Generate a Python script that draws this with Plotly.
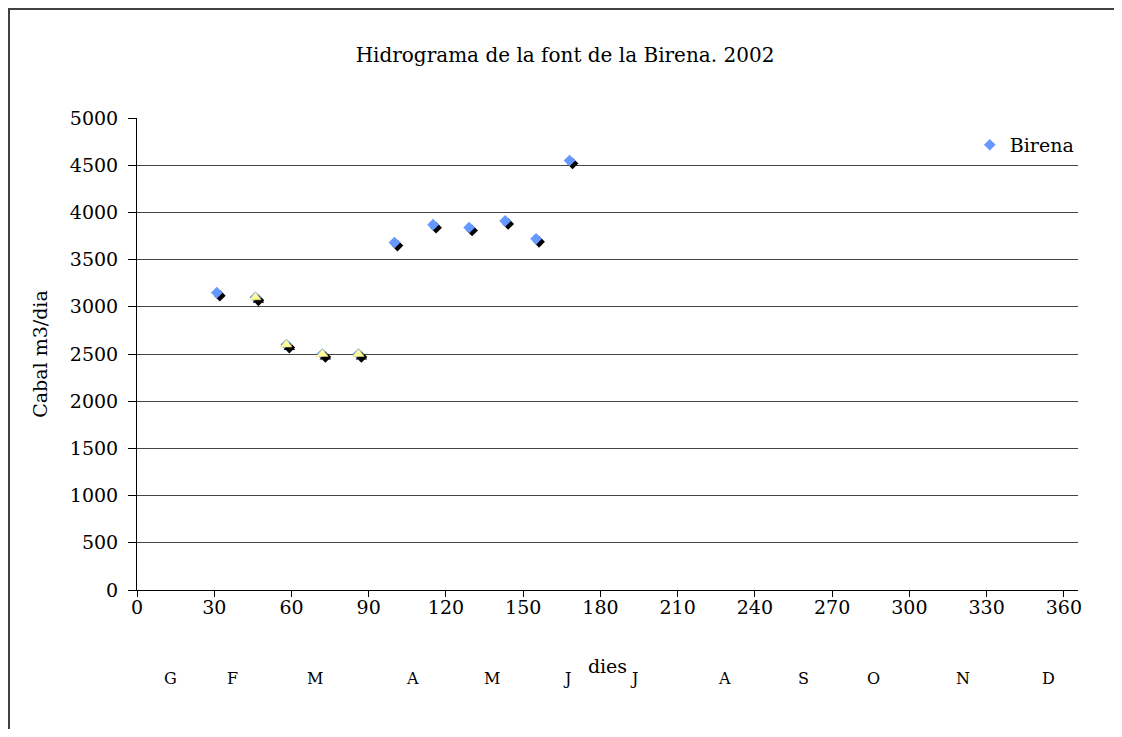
import plotly.graph_objects as go

# ---- data ----
days = [31, 46, 58, 72, 86, 100, 115, 129, 143, 155, 168]
flow = [3150, 3100, 2600, 2500, 2500, 3680, 3870, 3840, 3910, 3720, 4550]
tri_days = [46, 58, 72, 86]
tri_flow = [3100, 2600, 2500, 2500]
month_labels = ["G", "F", "M", "A", "M", "J", "J", "A", "S", "O", "N", "D"]
month_pos = [13, 37, 69, 107, 138, 167, 193, 228, 259, 286, 321, 354]
x_ticks = list(range(0, 361, 30))
y_ticks = list(range(0, 5001, 500))

FONT = "DejaVu Serif"
# page has an 8px body margin; figure sized to fit without scrollbars
W, H = 1106, 721
L, T = 129, 110
R = W - 1070
B = H - 582
pw, ph = W - L - R, H - T - B
XR = [0, 365.5]
YR = [0, 5000]
dx = 3 * (XR[1] - XR[0]) / pw     # shadow shift 3px right
dy = 3 * (YR[1] - YR[0]) / ph     # shadow shift 3px down
XS = [XR[0] - dx, XR[1] - dx]
YS = [YR[0] + dy, YR[1] + dy]

BLUE = "#6699FF"
YELLOW = "#FFFF99"

fig = go.Figure()
fig.add_trace(go.Scatter(x=days, y=flow, mode="markers", xaxis="x2", yaxis="y2",
                         marker=dict(symbol="diamond", size=9, color="black"),
                         showlegend=False, hoverinfo="skip"))
fig.add_trace(go.Scatter(x=days, y=flow, mode="markers", xaxis="x3", yaxis="y3",
                         name="Birena",
                         marker=dict(symbol="diamond", size=9, color=BLUE)))
fig.add_trace(go.Scatter(x=tri_days, y=tri_flow, mode="markers", xaxis="x4", yaxis="y4",
                         marker=dict(symbol="triangle-up", size=10, color="black"),
                         showlegend=False, hoverinfo="skip"))
fig.add_trace(go.Scatter(x=tri_days, y=tri_flow, mode="markers", xaxis="x5", yaxis="y5",
                         marker=dict(symbol="triangle-up", size=10, color=YELLOW,
                                     line=dict(color="#E8E070", width=0.5)),
                         showlegend=False))

hidden = dict(visible=False, showgrid=False, zeroline=False, fixedrange=True)
layout_axes = {}
for i, (xr, yr) in zip([2, 3, 4, 5], [(XS, YS), (XR, YR), (XS, YS), (XR, YR)]):
    layout_axes[f"xaxis{i}"] = dict(hidden, range=xr, overlaying="x")
    layout_axes[f"yaxis{i}"] = dict(hidden, range=yr, overlaying="y")

fig.update_layout(
    width=W, height=H,
    margin=dict(l=L, r=R, t=T, b=B),
    paper_bgcolor="white", plot_bgcolor="white",
    font=dict(family=FONT, size=19, color="black"),
    title=dict(text="Hidrograma de la font de la Birena. 2002", x=(555 - 8 + 10) / W, xref="container",
               y=1 - 47 / H, yref="container", xanchor="center", yanchor="middle",
               font=dict(family=FONT, size=20, color="black")),
    xaxis=dict(range=XR, tickmode="array", tickvals=x_ticks, ticks="outside", ticklen=6,
               tickcolor="black", showline=True, linecolor="black", linewidth=1,
               showgrid=False, zeroline=False, ticklabelstandoff=-6,
               title=dict(text="dies", standoff=42, font=dict(size=19))),
    yaxis=dict(range=YR, tickmode="array", tickvals=y_ticks, ticks="outside", ticklen=8,
               tickcolor="black", showline=True, linecolor="black", linewidth=1,
               showgrid=True, gridcolor="#444444", gridwidth=1, zeroline=False,
               ticklabelstandoff=6,
               title=dict(text="Cabal m3/dia", standoff=17, font=dict(size=19))),
    legend=dict(x=0.885, y=0.943, xanchor="left", yanchor="middle",
                bgcolor="rgba(0,0,0,0)", font=dict(size=19), itemwidth=30),
    showlegend=True,
    **layout_axes,
)

for lab, pos in zip(month_labels, month_pos):
    fig.add_annotation(x=pos, y=(582 - 670) / ph, xref="x", yref="paper", text=lab,
                       showarrow=False, yanchor="middle",
                       font=dict(family=FONT, size=16, color="black"))

# outer chart frame (right and bottom edges fall outside the picture)
fig.add_shape(type="rect", xref="paper", yref="paper",
              x0=(1 - L) / pw, x1=(W + 40 - L) / pw,
              y0=(H - T - (H + 40)) / ph, y1=(H - B - 1) / ph,
              line=dict(color="#404040", width=2), fillcolor="rgba(0,0,0,0)", layer="below")

fig.write_html("out.html")
